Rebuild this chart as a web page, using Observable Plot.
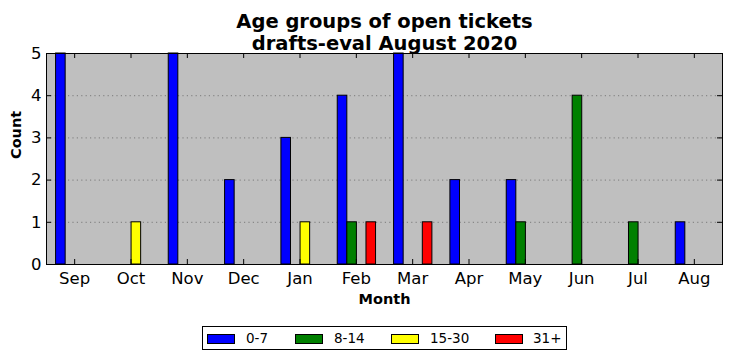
<!DOCTYPE html>
<html>
<head>
<meta charset="utf-8">
<script src="https://cdn.jsdelivr.net/npm/d3@7"></script>
<script src="https://cdn.jsdelivr.net/npm/@observablehq/plot@0.6"></script>
<style>
  body { margin: 0; background: #fff; font-family: "DejaVu Sans", sans-serif; }
  #wrap { position: relative; width: 732px; height: 361px; }
  #legend { position: absolute; left: 202px; top: 326px; width: 363px; height: 22px; border: 1px solid #000; background: #fff;
            font-size: 13.5px; }
  .sw { position: absolute; top: 7px; width: 26px; height: 8px; border: 1px solid #000; }
  .lt { position: absolute; top: 3px; line-height: 16px; }
</style>
</head>
<body>
<div id="wrap"><div id="chart"></div><div id="legend"></div></div>
<script>
const months = ["Sep","Oct","Nov","Dec","Jan","Feb","Mar","Apr","May","Jun","Jul","Aug"];
const series = ["0-7","8-14","15-30","31+"];
const v0_7   = [5,0,5,2,3,4,5,2,2,0,0,1];
const v8_14  = [0,0,0,0,0,1,0,0,1,4,1,0];
const v15_30 = [0,1,0,0,1,0,0,0,0,0,0,0];
const v31p   = [0,0,0,0,0,1,1,0,0,0,0,0];
const colors = ["#0000ff","#008000","#ffff00","#ff0000"];
const yTicks = [0,1,2,3,4,5];
const gridY = [1,2,3,4];
const title = "Age groups of open tickets\ndrafts-eval August 2020";

const seriesValues = [v0_7, v8_14, v15_30, v31p];
const data = [];
seriesValues.forEach((vals, k) => vals.forEach((v, i) => data.push({i, k, s: series[k], value: v})));
const idx = d3.range(months.length);

const W = 0.17, OFF = -0.33;
const pxX = 676 / 12, pxY = 211 / 5;
const tx = 5 / pxX, ty = 5 / pxY;

const chart = Plot.plot({
  width: 732, height: 361,
  marginLeft: 46, marginRight: 10, marginTop: 53, marginBottom: 97,
  style: {fontFamily: "DejaVu Sans, sans-serif", background: "white"},
  x: {domain: [-0.5, 11.5], axis: null},
  y: {domain: [0, 5], axis: null},
  color: {domain: series, range: colors},
  marks: [
    Plot.frame({fill: "#bfbfbf", stroke: "none"}),
    Plot.ruleY(gridY, {stroke: "#4d4d4d", strokeWidth: 0.6, strokeDasharray: "1.2,3.2"}),
    Plot.rect(data, {x1: d => d.i + OFF + d.k * W, x2: d => d.i + OFF + (d.k + 1) * W, y1: 0, y2: "value",
                     fill: "s", stroke: "black", strokeWidth: 1}),
    Plot.ruleX(idx, {x: d => d, y1: 0, y2: ty, stroke: "black"}),
    Plot.ruleX(idx, {x: d => d, y1: 5, y2: 5 - ty, stroke: "black"}),
    Plot.ruleY(yTicks, {y: d => d, x1: -0.5, x2: -0.5 + tx, stroke: "black"}),
    Plot.ruleY(yTicks, {y: d => d, x1: 11.5, x2: 11.5 - tx, stroke: "black"}),
    Plot.frame({stroke: "black", strokeWidth: 1}),
    Plot.axisX(idx, {tickSize: 0, tickPadding: 8, fontSize: 16.5, tickFormat: i => months[i], label: null, fill: "black"}),
    Plot.axisY(yTicks, {tickSize: 0, tickPadding: 5, fontSize: 16.5, label: null, fill: "black"}),
    Plot.text(["Count"], {frameAnchor: "left", dx: -30, rotate: -90, fontWeight: "bold", fontSize: 14.5, fill: "black"}),
    Plot.text(["Month"], {frameAnchor: "bottom", dy: 39, fontWeight: "bold", fontSize: 14.5, fill: "black"}),
    Plot.text([title], {frameAnchor: "top", lineAnchor: "bottom", dy: -4, fontWeight: "bold", fontSize: 19.5, lineHeight: 1.1, fill: "black"})
  ]
});
document.getElementById("chart").appendChild(chart);

const legend = document.getElementById("legend");
const swX = [4, 92, 188, 292];
const txX = [43, 131, 227, 330];
series.forEach((s, k) => {
  const sw = document.createElement("div");
  sw.className = "sw";
  sw.style.left = swX[k] + "px";
  sw.style.background = colors[k];
  const t = document.createElement("span");
  t.className = "lt";
  t.style.left = txX[k] + "px";
  t.textContent = s;
  legend.appendChild(sw); legend.appendChild(t);
});
</script>
</body>
</html>
